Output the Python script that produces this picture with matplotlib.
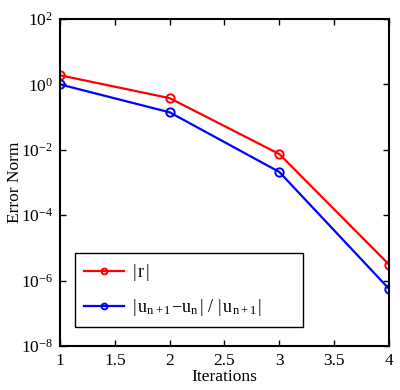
import matplotlib
matplotlib.use("Agg")
import matplotlib.pyplot as plt

iterations = [1, 2, 3, 4]
residual = [1.9, 0.38, 0.0074, 3.1e-6]
update = [1.0, 0.14, 0.0021, 5.6e-7]
labels = [r"$|\,\mathrm{r}\,|$",
          r"$|\,\mathrm{u}_{\mathrm{n+1}}\!-\!\mathrm{u}_{\mathrm{n}}\,|\ /\ |\,\mathrm{u}_{\mathrm{n+1}}\,|$"]

plt.rcParams['font.family'] = ['Liberation Serif', 'DejaVu Serif']
plt.rcParams['mathtext.fontset'] = 'custom'
plt.rcParams['mathtext.rm'] = 'Liberation Serif'
plt.rcParams['mathtext.it'] = 'Liberation Serif:italic'
plt.rcParams['mathtext.sf'] = 'Liberation Serif'

fig = plt.figure(figsize=(4.0, 3.9), dpi=100)
ax = fig.add_axes([0.15, 0.1128, 0.8225, 0.8385])
ax.plot(iterations, residual, '-o', color='red', lw=1.6, ms=6, mfc='none', mew=1.4, label=labels[0])
ax.plot(iterations, update, '-o', color='blue', lw=1.6, ms=6, mfc='none', mew=1.4, label=labels[1])
ax.set_yscale('log')
ax.set_xlim(1, 4)
ax.set_ylim(1e-8, 1e2)
ax.set_xticks([1, 1.5, 2, 2.5, 3, 3.5, 4])
ax.set_xticklabels(['1', '1.5', '2', '2.5', '3', '3.5', '4'])
ax.set_yticks([1e-8, 1e-6, 1e-4, 1e-2, 1e0, 1e2])
ax.minorticks_off()
ax.tick_params(direction='in', top=True, right=True, labelsize=12.5, length=4, width=1, pad=5)
for s in ax.spines.values():
    s.set_linewidth(1.5)
ax.set_xlabel('Iterations', fontsize=12.5, labelpad=0)
ax.set_ylabel('Error Norm', fontsize=12.5)
ax.yaxis.set_label_coords(-0.137, 0.5)
ax.yaxis.label.set_va('center')
leg = ax.legend(loc='lower left', bbox_to_anchor=(0.0456, 0.058, 0.693, 0.226), mode='expand',
                fontsize=13, fancybox=False, edgecolor='black', framealpha=1,
                handlelength=2.2, handletextpad=0.45, borderpad=0.5, labelspacing=0.75,
                markerscale=0.7, borderaxespad=0)
leg.get_frame().set_linewidth(1.0)
fig.savefig('out.png', dpi=100)
